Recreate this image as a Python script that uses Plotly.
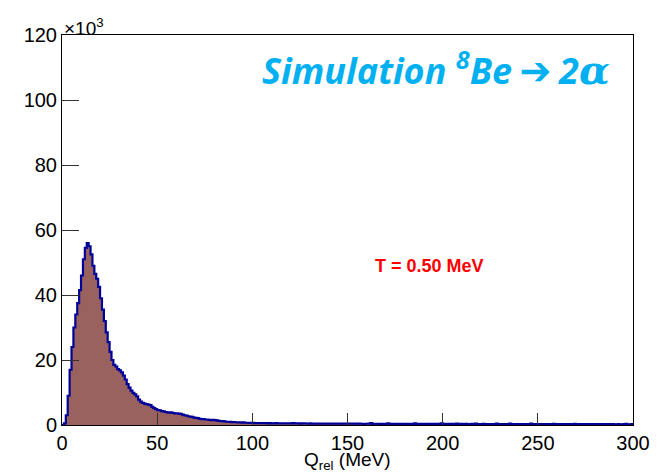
import numpy as np
import plotly.graph_objects as go

# Histogram: Q_rel (MeV), 1 MeV bins from 0 to 300, counts in units of 10^3
bin_lo = 0.0
bin_hi = 300.0
counts_k = [
    # 0-49
    0, 0.5, 3, 9, 17, 24, 30, 34, 37.5, 41.5,
    46, 51, 54.5, 56, 55, 52.5, 49, 46.5, 45, 42.5,
    39, 35.5, 32, 28.5, 25.5, 22.5, 20, 18.5, 18, 17.2,
    16.8, 16.2, 15.2, 14, 12.6, 11.5, 10.6, 9.9, 9.4, 8.8,
    7.8, 7.2, 6.8, 6.6, 6.4, 6.3, 6.1, 5.6, 5.2, 4.9,
    # 50-99
    4.6, 4.5, 4.3, 4.2, 4.0, 3.9, 3.8, 3.9, 3.7, 3.6,
    3.6, 3.5, 3.4, 3.2, 3.0, 2.9, 2.7, 2.6, 2.5, 2.3,
    2.2, 2.1, 1.9, 1.8, 1.8, 1.7, 1.7, 1.6, 1.5, 1.6,
    1.5, 1.4, 1.3, 1.2, 1.2, 1.1, 1.0, 1.0, 0.95, 0.9,
    0.9, 0.85, 0.8, 0.8, 0.75, 0.8, 0.7, 0.7, 0.65, 0.7,
    # 100-199
    0.65, 0.6, 0.62, 0.58, 0.6, 0.55, 0.57, 0.55, 0.52, 0.55,
    0.5, 0.52, 0.55, 0.5, 0.48, 0.5, 0.52, 0.5, 0.48, 0.5,
    0.5, 0.62, 0.48, 0.47, 0.5, 0.45, 0.47, 0.5, 0.46, 0.45,
    0.47, 0.45, 0.44, 0.46, 0.45, 0.43, 0.45, 0.44, 0.42, 0.44,
    0.43, 0.45, 0.42, 0.41, 0.43, 0.42, 0.4, 0.42, 0.41, 0.4,
    0.42, 0.4, 0.39, 0.41, 0.4, 0.38, 0.4, 0.39, 0.37, 0.39,
    0.38, 0.4, 0.55, 0.37, 0.39, 0.38, 0.36, 0.38, 0.37, 0.36,
    0.38, 0.5, 0.36, 0.37, 0.35, 0.37, 0.36, 0.35, 0.37, 0.36,
    0.35, 0.36, 0.34, 0.36, 0.35, 0.5, 0.34, 0.35, 0.33, 0.35,
    0.34, 0.33, 0.35, 0.34, 0.32, 0.34, 0.33, 0.32, 0.34, 0.48,
    # 200-299
    0.33, 0.32, 0.34, 0.31, 0.33, 0.32, 0.31, 0.45, 0.32, 0.31,
    0.33, 0.3, 0.32, 0.31, 0.3, 0.32, 0.31, 0.44, 0.3, 0.31,
    0.3, 0.32, 0.29, 0.31, 0.3, 0.29, 0.31, 0.3, 0.43, 0.29,
    0.3, 0.28, 0.3, 0.29, 0.28, 0.42, 0.29, 0.28, 0.3, 0.28,
    0.29, 0.28, 0.27, 0.29, 0.28, 0.27, 0.4, 0.28, 0.27, 0.29,
    0.27, 0.26, 0.28, 0.27, 0.26, 0.28, 0.27, 0.26, 0.38, 0.27,
    0.26, 0.27, 0.25, 0.27, 0.26, 0.25, 0.27, 0.26, 0.25, 0.37,
    0.25, 0.26, 0.24, 0.26, 0.25, 0.24, 0.26, 0.25, 0.24, 0.26,
    0.24, 0.25, 0.23, 0.25, 0.24, 0.23, 0.25, 0.24, 0.23, 0.24,
    0.23, 0.22, 0.24, 0.23, 0.22, 0.24, 0.36, 0.23, 0.22, 0.3,
]
x_ticks = [0, 50, 100, 150, 200, 250, 300]
y_ticks = [0, 20, 40, 60, 80, 100, 120]
arrow = "<span style='font-family:DejaVu Sans;font-size:38px'>\u2009\u2794\u2009</span>"
title_text = ("<i>Simulation <sup>8</sup>Be</i>" + arrow
              + "<i>2</i><span style='font-family:DejaVu Serif;font-size:40px'><i>\u03b1</i></span>")
temp_text = "T = 0.50 MeV"
x_title = "Q<sub>rel</sub> (MeV)"

n = len(counts_k)
edges = np.linspace(bin_lo, bin_hi, n + 1)
xs = list(edges)
ys = list(counts_k) + [counts_k[-1]]

fig = go.Figure()
fig.add_trace(go.Scatter(
    x=xs, y=ys, mode="lines", line=dict(shape="hv", color="#000099", width=2.2),
    fill="tozeroy", fillcolor="#9a625f", hoverinfo="skip", showlegend=False,
))

font_main = "Liberation Sans, Arial, sans-serif"
fig.update_layout(
    width=665, height=473,
    margin=dict(l=62, r=32, t=35, b=48),
    paper_bgcolor="white", plot_bgcolor="white",
    showlegend=False,
    font=dict(family=font_main, size=20, color="black"),
    xaxis=dict(
        range=[bin_lo, bin_hi], tickvals=x_ticks, ticks="inside", ticklen=12,
        tickcolor="#333333", showline=True, linecolor="black", linewidth=1,
        mirror=True, showgrid=False, zeroline=False, automargin=False,
        tickfont=dict(family=font_main, size=20),
    ),
    yaxis=dict(
        range=[0, 120], tickvals=y_ticks, ticks="inside", ticklen=17,
        tickcolor="#333333", showline=True, linecolor="black", linewidth=1,
        mirror=True, showgrid=False, zeroline=False, automargin=False,
        tickfont=dict(family=font_main, size=20),
    ),
    annotations=[
        dict(text="\u00d710<sup>3</sup>", xref="paper", yref="paper", x=0, y=1,
             xanchor="left", yanchor="bottom", showarrow=False, yshift=-6,
             font=dict(family=font_main, size=19, color="black")),
        dict(text="<b>" + title_text + "</b>", xref="paper", yref="paper", x=0.963, y=0.915,
             xanchor="right", yanchor="middle", showarrow=False,
             font=dict(family="Open Sans, sans-serif", size=36, color="#00b0f0")),
        dict(text="<b>" + temp_text + "</b>", xref="x", yref="y", x=193, y=49,
             xanchor="center", yanchor="middle", showarrow=False,
             font=dict(family=font_main, size=18, color="#ff0000")),
        dict(text=x_title, xref="paper", yref="paper", x=0.5, y=0,
             xanchor="center", yanchor="top", showarrow=False, yshift=-23,
             borderpad=0, font=dict(family=font_main, size=19, color="black")),
    ],
)

fig.write_html("out.html")
